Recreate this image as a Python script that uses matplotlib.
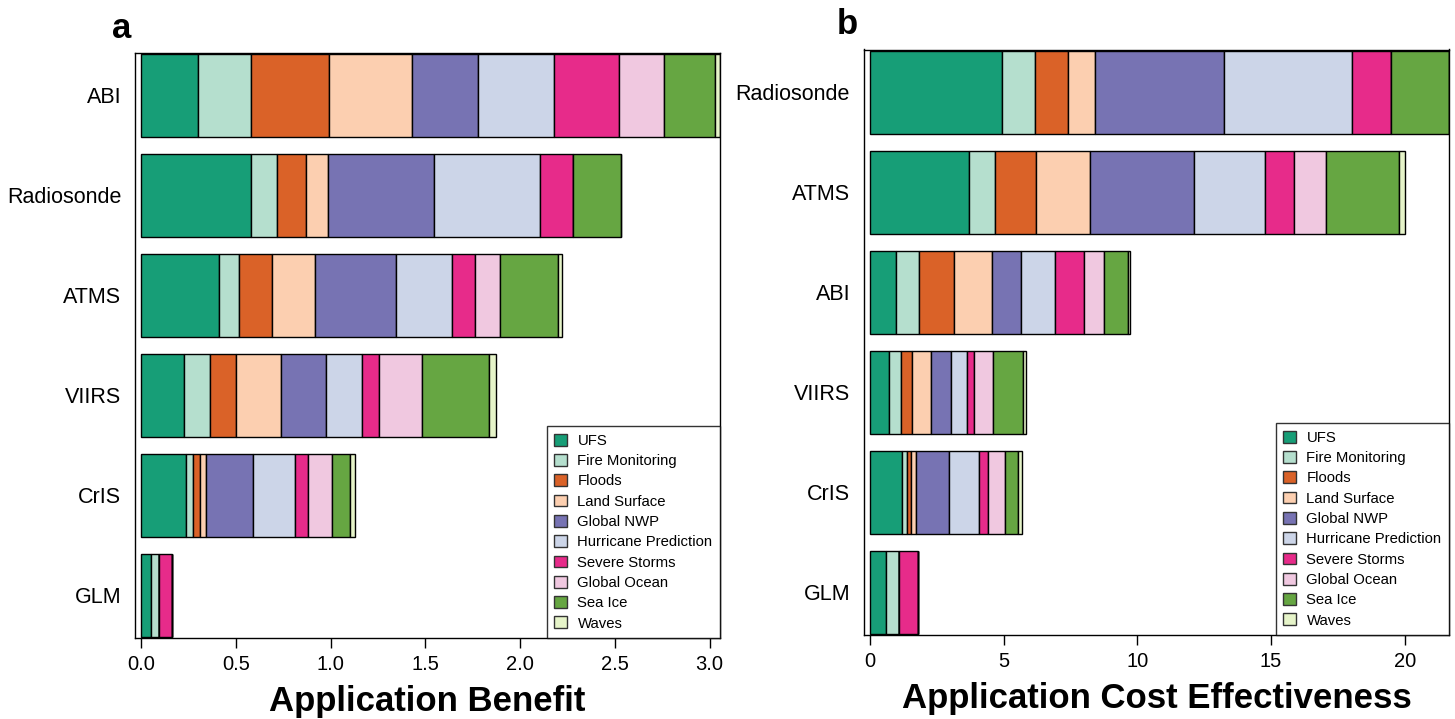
import numpy as np
import matplotlib
matplotlib.use('Agg')
import matplotlib.pyplot as plt

plt.rcParams['font.family'] = ['Liberation Sans', 'DejaVu Sans']

categories = ['UFS', 'Fire Monitoring', 'Floods', 'Land Surface', 'Global NWP',
              'Hurricane Prediction', 'Severe Storms', 'Global Ocean', 'Sea Ice', 'Waves']
colors = ['#179E77', '#B5DFCE', '#DA6228', '#FCCFB0', '#7773B3',
          '#CCD5E8', '#E72B8A', '#F0C8E0', '#66A642', '#E6F4C9']

# panel a: application benefit (top to bottom)
inst_a = ['ABI', 'Radiosonde', 'ATMS', 'VIIRS', 'CrIS', 'GLM']
benefit = [
    [0.300, 0.280, 0.410, 0.440, 0.350, 0.400, 0.340, 0.240, 0.270, 0.025],
    [0.578, 0.141, 0.150, 0.115, 0.563, 0.560, 0.174, 0.000, 0.254, 0.000],
    [0.412, 0.107, 0.170, 0.228, 0.428, 0.297, 0.118, 0.135, 0.303, 0.024],
    [0.226, 0.140, 0.137, 0.236, 0.235, 0.190, 0.091, 0.226, 0.357, 0.037],
    [0.236, 0.039, 0.038, 0.030, 0.245, 0.226, 0.069, 0.123, 0.099, 0.026],
    [0.053, 0.044, 0.000, 0.000, 0.000, 0.000, 0.065, 0.000, 0.000, 0.000],
]
ticks_a = [0.0, 0.5, 1.0, 1.5, 2.0, 2.5, 3.0]
tick_labels_a = ['0.0', '0.5', '1.0', '1.5', '2.0', '2.5', '3.0']

# panel b: application cost effectiveness (top to bottom)
inst_b = ['Radiosonde', 'ATMS', 'ABI', 'VIIRS', 'CrIS', 'GLM']
cost_eff = [
    [4.940, 1.230, 1.250, 0.990, 4.820, 4.780, 1.470, 0.000, 2.170, 0.000],
    [3.720, 0.960, 1.530, 2.030, 3.860, 2.690, 1.070, 1.200, 2.730, 0.210],
    [0.965, 0.879, 1.305, 1.404, 1.107, 1.248, 1.092, 0.766, 0.894, 0.071],
    [0.709, 0.440, 0.425, 0.723, 0.723, 0.596, 0.284, 0.695, 1.120, 0.113],
    [1.191, 0.184, 0.170, 0.184, 1.234, 1.135, 0.326, 0.624, 0.482, 0.156],
    [0.596, 0.482, 0.000, 0.000, 0.000, 0.000, 0.709, 0.000, 0.000, 0.000],
]
ticks_b = [0, 5, 10, 15, 20]
tick_labels_b = ['0', '5', '10', '15', '20']

fig = plt.figure(figsize=(14.55, 7.19), dpi=100)
W, H = 1455, 719


def add_panel(rect_px, names, data, ticks, tick_labels, xlabel, letter, letter_xy):
    l, t, r, b = rect_px
    ax = fig.add_axes([l / W, 1 - b / H, (r - l) / W, (b - t) / H])
    data = np.array(data)
    y = np.arange(len(names))
    left = np.zeros(len(names))
    for j, cat in enumerate(categories):
        ax.barh(y, data[:, j], left=left, height=0.833, color=colors[j],
                edgecolor='black', linewidth=1.0, label=cat)
        left += data[:, j]
    xmax = left.max()
    ax.set_xlim(-0.01 * xmax, xmax)
    ax.set_ylim(len(names) - 1 + 0.4265, -0.4265)
    ax.set_yticks(y)
    ax.set_yticklabels(names, fontsize=15.5)
    ax.tick_params(axis='y', length=0, pad=10)
    ax.set_xticks(ticks)
    ax.set_xticklabels(tick_labels, fontsize=14.5)
    ax.tick_params(axis='x', length=7, width=1, pad=5, direction='out')
    for s in ax.spines.values():
        s.set_linewidth(1.0)
    ax.set_xlabel(xlabel, fontsize=25, fontweight='bold', labelpad=8)
    leg = ax.legend(loc='lower right', fontsize=10.7, frameon=True, fancybox=False,
                    borderaxespad=0, handlelength=0.85, handleheight=0.85,
                    handletextpad=0.7, labelspacing=0.42, borderpad=0.5)
    fr = leg.get_frame()
    fr.set_edgecolor('black')
    fr.set_linewidth(1.0)
    for p in leg.get_patches():
        p.set_edgecolor('#333333')
    fig.text(letter_xy[0] / W, 1 - letter_xy[1] / H, letter, fontsize=25,
             fontweight='bold', ha='center', va='center')
    return ax


add_panel((135.3, 52.7, 720, 638), inst_a, benefit, ticks_a, tick_labels_a,
          'Application Benefit', 'a', (122, 28))
add_panel((864, 49.5, 1449, 635), inst_b, cost_eff, ticks_b, tick_labels_b,
          'Application Cost Effectiveness', 'b', (847, 25))

plt.savefig('out.png', dpi=100)
